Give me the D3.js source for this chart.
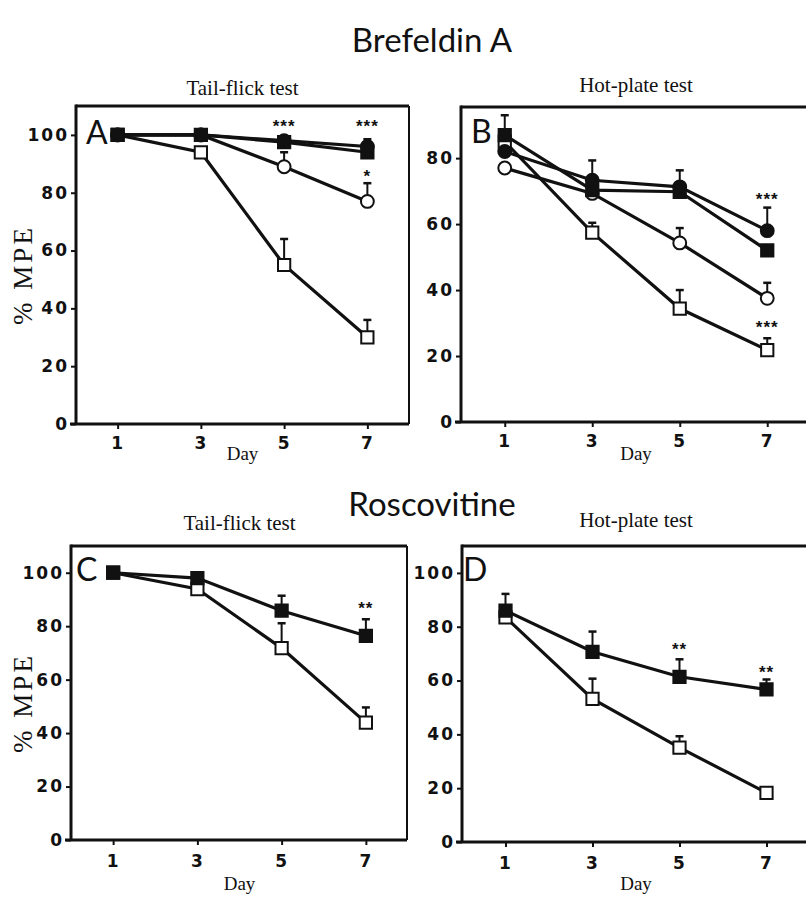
<!DOCTYPE html>
<html>
<head>
<meta charset="utf-8">
<script src="https://cdn.jsdelivr.net/npm/d3@7"></script>
<style>
body { margin: 0; background: #fff; }
svg { display: block; }
.tick text { font-family: "DejaVu Sans", sans-serif; font-weight: bold; font-size: 17px; letter-spacing: 2px; fill: #111; }
.tick line { stroke: #111; stroke-width: 2; }
</style>
</head>
<body>
<svg id="chart" width="806" height="900"></svg>
<script>
//////////////////////////////////////////////////////////////////////////////
// Data (% MPE, mean and upper SEM)

var days = [1, 3, 5, 7];

// Brefeldin A, tail-flick
var aFilledCircle    = [100, 100, 98, 96];
var aFilledCircleSem = [0, 0, 0, 2.5];
var aFilledSquare    = [100, 100, 97.5, 94];
var aFilledSquareSem = [0, 0, 0, 0];
var aOpenCircle      = [100, 100, 89, 77];
var aOpenCircleSem   = [0, 0, 5, 6.3];
var aOpenSquare      = [100, 94, 55, 30];
var aOpenSquareSem   = [0, 0, 9, 6];
var aStars = [{day: 5, y: 103.5, text: "***"}, {day: 7, y: 103.5, text: "***"}, {day: 7, y: 86, text: "*"}];

// Brefeldin A, hot-plate
var bFilledCircle    = [82, 73.3, 71.3, 58];
var bFilledCircleSem = [0, 6, 5, 7];
var bFilledSquare    = [87, 70.3, 69.8, 52];
var bFilledSquareSem = [6, 0, 0, 0];
var bOpenCircle      = [77, 69.3, 54.3, 37.5];
var bOpenCircleSem   = [0, 0, 4.5, 4.7];
var bOpenSquare      = [85, 57.4, 34.4, 21.8];
var bOpenSquareSem   = [0, 3, 5.6, 3.6];
var bStars = [{day: 7, y: 68, text: "***"}, {day: 7, y: 29, text: "***"}];

// Roscovitine, tail-flick
var cFilledSquare    = [100, 98, 85.8, 76.4];
var cFilledSquareSem = [0, 0, 5.6, 6.2];
var cOpenSquare      = [100, 93.9, 71.8, 43.9];
var cOpenSquareSem   = [0, 0, 9.3, 5.7];
var cStars = [{day: 7, y: 87, text: "**"}];

// Roscovitine, hot-plate
var dFilledSquare    = [86, 70.7, 61.4, 56.7];
var dFilledSquareSem = [6.2, 7.5, 6.5, 3.7];
var dOpenSquare      = [83.5, 53.2, 35.1, 18.3];
var dOpenSquareSem   = [0, 7.5, 4.2, 0];
var dStars = [{day: 5, y: 72, text: "**"}, {day: 7, y: 63.5, text: "**"}];

var yTicksFull = [0, 20, 40, 60, 80, 100];
var yTicksB    = [0, 20, 40, 60, 80];

//////////////////////////////////////////////////////////////////////////////
// Panel layout

function series(values, sem, shape, filled) {
    return days.map(function(d, i) {
        return {day: d, v: values[i], sem: sem[i], shape: shape, filled: filled};
    });
}

var panels = [
    {letter: "A", left: 76, right: 409, frameRight: 409, top: 106, bottom: 424, ymax: 110,
     yTicks: yTicksFull, title: "Tail-flick test", titleY: 95, tickPad: 8, dayY: 460, ylabel: true,
     letterDx: 10, letterY: 144, stars: aStars,
     lines: [series(aOpenSquare, aOpenSquareSem, "square", false),
             series(aOpenCircle, aOpenCircleSem, "circle", false),
             series(aFilledSquare, aFilledSquareSem, "square", true),
             series(aFilledCircle, aFilledCircleSem, "circle", true)]},
    {letter: "B", left: 461, right: 811, frameRight: 806, top: 107, bottom: 422, ymax: 95.5,
     yTicks: yTicksB, title: "Hot-plate test", titleY: 92, tickPad: 8, dayY: 460, ylabel: false,
     letterDx: 10, letterY: 143, stars: bStars,
     lines: [series(bOpenSquare, bOpenSquareSem, "square", false),
             series(bOpenCircle, bOpenCircleSem, "circle", false),
             series(bFilledSquare, bFilledSquareSem, "square", true),
             series(bFilledCircle, bFilledCircleSem, "circle", true)]},
    {letter: "C", left: 71, right: 408, frameRight: 407, top: 546, bottom: 840, ymax: 110,
     yTicks: yTicksFull, title: "Tail-flick test", titleY: 530, tickPad: 10, dayY: 890, ylabel: true,
     letterDx: 5, letterY: 581, stars: cStars,
     lines: [series(cOpenSquare, cOpenSquareSem, "square", false),
             series(cFilledSquare, cFilledSquareSem, "square", true)]},
    {letter: "D", left: 462, right: 810, frameRight: 806, top: 546, bottom: 842, ymax: 110,
     yTicks: yTicksFull, title: "Hot-plate test", titleY: 527, tickPad: 10, dayY: 890, ylabel: false,
     letterDx: 1, letterY: 581, stars: dStars,
     lines: [series(dOpenSquare, dOpenSquareSem, "square", false),
             series(dFilledSquare, dFilledSquareSem, "square", true)]}
];

var ink = "#111";
var svg = d3.select("#chart");

svg.append("text")
    .attr("x", 432).attr("y", 52)
    .attr("text-anchor", "middle")
    .style("font-family", "Lato, sans-serif")
    .style("font-size", "33px")
    .attr("fill", ink)
    .text("Brefeldin A");

svg.append("text")
    .attr("x", 432).attr("y", 516)
    .attr("text-anchor", "middle")
    .style("font-family", "Lato, sans-serif")
    .style("font-size", "33px")
    .attr("fill", ink)
    .text("Roscovitine");

function drawPanel(p)
{
    var g = svg.append("g");
    var x = d3.scaleLinear().domain([0, 8]).range([p.left, p.right]);
    var y = d3.scaleLinear().domain([0, p.ymax]).range([p.bottom, p.top]);

    // frame
    g.append("line")
        .attr("x1", p.left).attr("x2", p.frameRight)
        .attr("y1", p.top).attr("y2", p.top)
        .attr("stroke", ink).attr("stroke-width", 3);
    if (p.frameRight < 806) {
        g.append("line")
            .attr("x1", p.frameRight).attr("x2", p.frameRight)
            .attr("y1", p.top).attr("y2", p.bottom)
            .attr("stroke", ink).attr("stroke-width", 2);
    }

    // axes
    var ya = g.append("g")
        .attr("transform", "translate(" + p.left + ",0)")
        .call(d3.axisLeft(y).tickValues(p.yTicks).tickSize(5).tickPadding(2));
    ya.select(".domain").remove();

    var xa = g.append("g")
        .attr("transform", "translate(0," + p.bottom + ")")
        .call(d3.axisBottom(x).tickValues(days).tickSize(5).tickPadding(p.tickPad));
    xa.select(".domain").remove();

    g.append("line")
        .attr("x1", p.left).attr("x2", p.left)
        .attr("y1", p.top - 1.5).attr("y2", p.bottom)
        .attr("stroke", ink).attr("stroke-width", 3);
    g.append("line")
        .attr("x1", p.left - 6).attr("x2", p.frameRight)
        .attr("y1", p.bottom).attr("y2", p.bottom)
        .attr("stroke", ink).attr("stroke-width", 3);

    // labels
    g.append("text")
        .attr("x", (x(1) + x(7)) / 2).attr("y", p.titleY)
        .attr("text-anchor", "middle")
        .style("font-family", "'Liberation Serif', serif")
        .style("font-size", "21px")
        .attr("fill", ink)
        .text(p.title);

    g.append("text")
        .attr("x", (x(3) + x(5)) / 2).attr("y", p.dayY)
        .attr("text-anchor", "middle")
        .style("font-family", "'Liberation Serif', serif")
        .style("font-size", "19px")
        .attr("fill", ink)
        .text("Day");

    if (p.ylabel) {
        g.append("text")
            .attr("transform", "translate(32," + ((p.top + p.bottom) / 2 + 10) + ") rotate(-90)")
            .attr("text-anchor", "middle")
            .style("font-family", "'Liberation Serif', serif")
            .style("font-size", "27px")
            .style("letter-spacing", "3px")
            .attr("fill", ink)
            .text("% MPE");
    }

    g.append("text")
        .attr("x", p.left + p.letterDx).attr("y", p.letterY)
        .style("font-family", "Lato, sans-serif")
        .style("font-size", "32px")
        .attr("fill", ink)
        .text(p.letter);

    // series
    p.lines.forEach(function(s) {
        g.append("path")
            .datum(s)
            .attr("fill", "none")
            .attr("stroke", ink)
            .attr("stroke-width", 3.2)
            .attr("d", d3.line().x(function(d) { return x(d.day); }).y(function(d) { return y(d.v); }));

        var eb = g.selectAll(null)
            .data(s.filter(function(d) { return d.sem > 0; }))
            .enter().append("g");
        eb.append("line")
            .attr("x1", function(d) { return x(d.day); })
            .attr("x2", function(d) { return x(d.day); })
            .attr("y1", function(d) { return y(d.v); })
            .attr("y2", function(d) { return y(d.v + d.sem); })
            .attr("stroke", ink).attr("stroke-width", 2);
        eb.append("line")
            .attr("x1", function(d) { return x(d.day) - 4; })
            .attr("x2", function(d) { return x(d.day) + 4; })
            .attr("y1", function(d) { return y(d.v + d.sem); })
            .attr("y2", function(d) { return y(d.v + d.sem); })
            .attr("stroke", ink).attr("stroke-width", 2.5);

        var sym = d3.symbol()
            .type(s[0].shape == "circle" ? d3.symbolCircle : d3.symbolSquare)
            .size(s[0].shape == "circle" ? 130 : 150);
        g.selectAll(null)
            .data(s)
            .enter().append("path")
            .attr("transform", function(d) { return "translate(" + x(d.day) + "," + y(d.v) + ")"; })
            .attr("d", sym)
            .attr("fill", function(d) { return d.filled ? ink : "#fff"; })
            .attr("stroke", ink)
            .attr("stroke-width", 2);
    });

    g.selectAll(null)
        .data(p.stars)
        .enter().append("text")
        .attr("x", function(d) { return x(d.day); })
        .attr("y", function(d) { return y(d.y) + 7; })
        .attr("text-anchor", "middle")
        .style("font-family", "'Liberation Sans', sans-serif")
        .style("font-weight", "bold")
        .style("font-size", "17px")
        .style("letter-spacing", "1px")
        .attr("fill", ink)
        .text(function(d) { return d.text; });
}

panels.forEach(drawPanel);
</script>
</body>
</html>
